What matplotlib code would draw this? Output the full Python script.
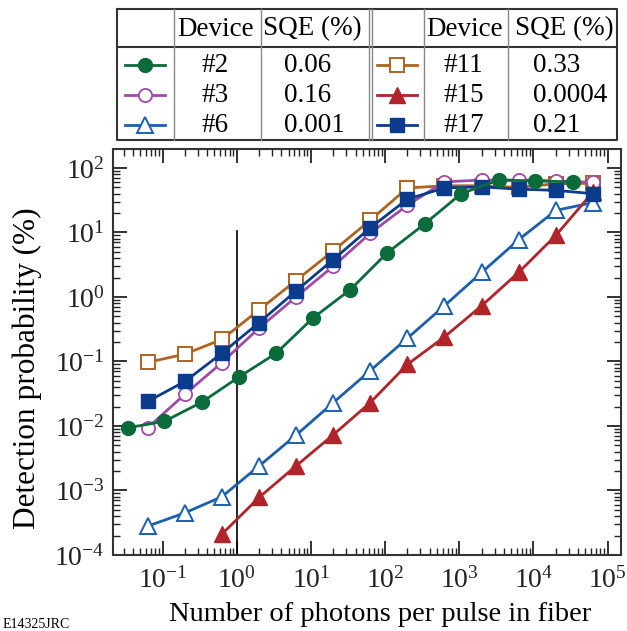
import matplotlib
matplotlib.use("Agg")
import matplotlib.pyplot as plt
import numpy as np

plt.rcParams['font.family'] = ['Liberation Serif', 'DejaVu Serif']
plt.rcParams['mathtext.fontset'] = 'custom'
plt.rcParams['mathtext.rm'] = 'Liberation Serif'
plt.rcParams['mathtext.it'] = 'Liberation Serif:italic'

# ---------------- data ----------------
x_std = [0.063, 0.2, 0.63, 2, 6.3, 20, 63, 200, 630, 2000, 6300, 20000, 63000]
x_green = [0.034, 0.106, 0.34, 1.06, 3.4, 10.6, 34, 106, 340, 1060, 3400, 10600, 34000]
x_red = [0.63, 2, 6.3, 20, 63, 200, 630, 2000, 6300, 20000, 63000]

y_dev2 = [0.0094, 0.0118, 0.0235, 0.057, 0.134, 0.47, 1.3, 4.8, 13.5, 40, 65, 63, 61]
y_dev3 = [0.0094, 0.031, 0.096, 0.33, 1.0, 3.0, 9.7, 26.5, 61, 65, 65, 63, 60]
y_dev6 = [0.00028, 0.00045, 0.0008, 0.0024, 0.0072, 0.023, 0.072, 0.23, 0.73, 2.4, 7.7, 22, 29]
y_dev11 = [0.097, 0.13, 0.22, 0.63, 1.8, 5.2, 15.5, 49, 53, 53, 50, 57, 58]
y_dev15 = [0.00021, 0.00078, 0.0024, 0.0073, 0.023, 0.09, 0.24, 0.73, 2.4, 9.0, 42]
y_dev17 = [0.024, 0.049, 0.134, 0.40, 1.24, 3.8, 11.8, 32.9, 49, 51, 47, 45, 40]

devices_left = ["#2", "#3", "#6"]
sqe_left = ["0.06", "0.16", "0.001"]
devices_right = ["#11", "#15", "#17"]
sqe_right = ["0.33", "0.0004", "0.21"]

col_green = "#0b6b3a"
col_purple = "#a04aa8"
col_blue = "#1a5fb0"
col_orange = "#b0631f"
col_red = "#b0242a"
col_navy = "#0b3c8c"

W, H = 627, 631
fig = plt.figure(figsize=(W / 100, H / 100), dpi=100)
ax = fig.add_axes([113 / W, 1 - 555 / H, (620.7 - 113) / W, (555 - 149) / H])

lw = 2.0
styles = {
    "#2": dict(color=col_green, marker='o', mfc=col_green, mec=col_green, ms=10),
    "#3": dict(color=col_purple, marker='o', mfc='white', mec=col_purple, ms=9.5, mew=1.3),
    "#6": dict(color=col_blue, marker='^', mfc='white', mec=col_blue, ms=11.5, mew=1.4),
    "#11": dict(color=col_orange, marker='s', mfc='white', mec=col_orange, ms=9.5, mew=1.4),
    "#15": dict(color=col_red, marker='^', mfc=col_red, mec=col_red, ms=11),
    "#17": dict(color=col_navy, marker='s', mfc=col_navy, mec=col_navy, ms=9.5),
}

ax.plot(x_std, y_dev11, lw=lw, zorder=3, **styles["#11"])
ax.plot(x_std, y_dev3, lw=lw, zorder=3, **styles["#3"])
ax.plot(x_std, y_dev17, lw=lw, zorder=4, **styles["#17"])
ax.plot(x_green, y_dev2, lw=lw, zorder=5, **styles["#2"])
ax.plot(x_std, y_dev6, lw=lw, zorder=3, **styles["#6"])
ax.plot(x_red, y_dev15, lw=lw, zorder=3, **styles["#15"])

ax.plot([1, 1], [1e-4, 10.5], color='black', lw=1.2, zorder=2)

ax.set_xscale('log')
ax.set_yscale('log')
ax.set_xlim(0.0215, 1.5e5)
ax.set_ylim(1e-4, 197)

ax.set_xticks([1e-1, 1, 1e1, 1e2, 1e3, 1e4, 1e5])
ax.set_yticks([1e-4, 1e-3, 1e-2, 1e-1, 1, 1e1, 1e2])
ax.xaxis.set_minor_locator(matplotlib.ticker.LogLocator(base=10, subs=np.arange(2, 10), numticks=20))
ax.yaxis.set_minor_locator(matplotlib.ticker.LogLocator(base=10, subs=np.arange(2, 10), numticks=20))
ax.xaxis.set_minor_formatter(matplotlib.ticker.NullFormatter())
ax.yaxis.set_minor_formatter(matplotlib.ticker.NullFormatter())
ax.tick_params(which='both', direction='in', top=True, right=True, labelsize=20, colors='#222222')
ax.tick_params(which='major', length=10, width=1.3, pad=6)
ax.tick_params(axis='x', which='major', pad=9)
ax.tick_params(which='minor', length=5, width=1.0)
for s in ax.spines.values():
    s.set_linewidth(1.5)
    s.set_color('#333333')

ax.set_xlabel("Number of photons per pulse in fiber", fontsize=20.5, labelpad=6)
ax.xaxis.set_label_coords((380 - 113) / 507.7, -0.115)
ax.set_ylabel("Detection probability (%)", fontsize=22.5, labelpad=2)
ax.yaxis.set_label_coords(-0.140, (555 - 368) / 406)

fig.text(3 / W, 1 - 628 / H, "E14325JRC", fontsize=10, ha='left', va='baseline')

# ---------------- table ----------------
tab = fig.add_axes([0, 0, 1, 1])
tab.set_xlim(0, W)
tab.set_ylim(H, 0)
tab.axis('off')

left, right, top, bottom = 117, 617, 9, 140
hdr = 47
tab.plot([left, right, right, left, left], [top, top, bottom, bottom, top], color='#333333', lw=1.5)
tab.plot([left, right], [hdr, hdr], color='#333333', lw=1.5)
for xv in [173.5, 261, 423.7, 508]:
    tab.plot([xv, xv], [top, bottom], color='#888888', lw=1.0)
for xv in [368.5, 372]:
    tab.plot([xv, xv], [top, bottom], color='#888888', lw=1.0)

fs = 19.5
hy = 29
tab.text(216, hy, "Device", fontsize=fs, ha='center', va='center')
tab.text(312, hy, "SQE (%)", fontsize=fs, ha='center', va='center')
tab.text(465, hy, "Device", fontsize=fs, ha='center', va='center')
tab.text(564, hy, "SQE (%)", fontsize=fs, ha='center', va='center')

rows_y = [65, 95, 125]
left_keys = ["#2", "#3", "#6"]
right_keys = ["#11", "#15", "#17"]
for i, ry in enumerate(rows_y):
    st = styles[left_keys[i]]
    tab.plot([125, 165], [ry, ry], lw=lw, **{k: v for k, v in st.items() if k != 'marker'})
    tab.plot([145], [ry], lw=0, **st)
    st = styles[right_keys[i]]
    tab.plot([377, 417], [ry, ry], lw=lw, **{k: v for k, v in st.items() if k != 'marker'})
    tab.plot([397], [ry], lw=0, **st)
    tab.text(201, ry, devices_left[i], fontsize=fs, ha='left', va='center')
    tab.text(284, ry, sqe_left[i], fontsize=fs, ha='left', va='center')
    tab.text(443, ry, devices_right[i], fontsize=fs, ha='left', va='center')
    tab.text(533, ry, sqe_right[i], fontsize=fs, ha='left', va='center')

fig.savefig("out.png", dpi=100)
